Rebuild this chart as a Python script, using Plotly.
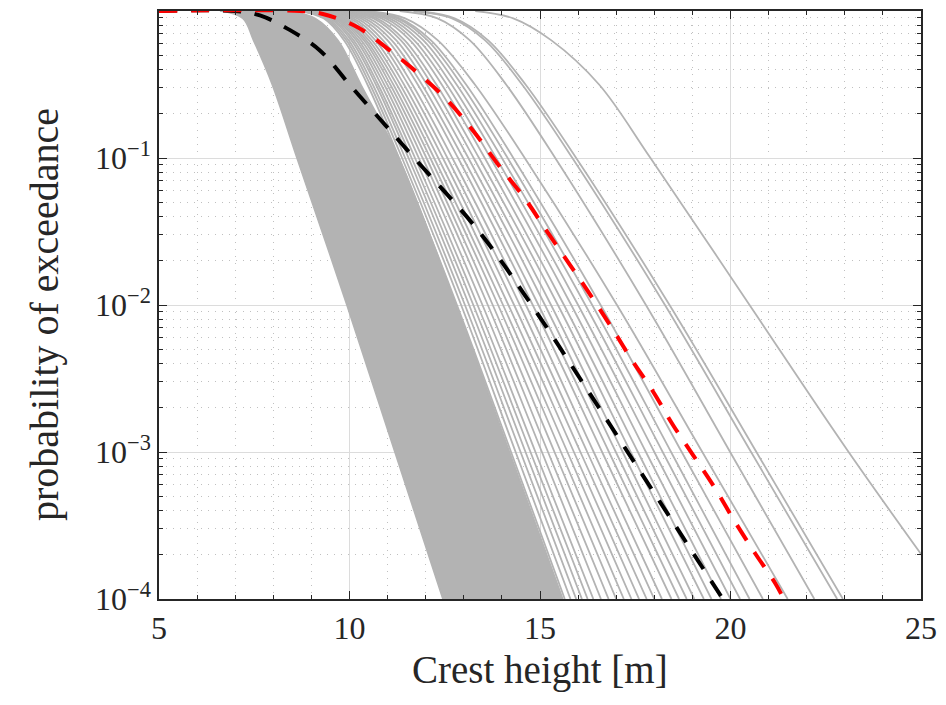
import plotly.graph_objects as go

# log10 of the probability of exceedance at which each gray curve was read
LOG_P = [0, -0.05, -0.2, -0.5, -1, -2, -3, -4]

# dense band of gray curves: left and right boundary (crest height, m)
core_left = [6.6, 7.2, 7.48, 7.97, 8.62, 9.93, 11.19, 12.45]
core_right = [8.4, 9.1, 9.7, 10.3, 11.3, 12.8, 14.2, 15.6]

# individual gray curves outside the dense band (crest height at LOG_P levels)
gray_curves = [
    [8.69, 9.32, 9.86, 10.47, 11.30, 12.82, 14.24, 15.65],
    [8.73, 9.37, 9.92, 10.54, 11.38, 12.93, 14.36, 15.80],
    [8.77, 9.42, 9.98, 10.61, 11.46, 13.03, 14.49, 15.95],
    [8.82, 9.48, 10.05, 10.69, 11.55, 13.14, 14.62, 16.10],
    [8.86, 9.53, 10.11, 10.75, 11.63, 13.25, 14.75, 16.25],
    [8.91, 9.59, 10.18, 10.83, 11.72, 13.36, 14.88, 16.40],
    [8.95, 9.65, 10.24, 10.91, 11.82, 13.49, 15.05, 16.60],
    [8.99, 9.70, 10.31, 10.99, 11.92, 13.63, 15.21, 16.80],
    [9.03, 9.75, 10.38, 11.07, 12.02, 13.76, 15.38, 17.00],
    [9.07, 9.81, 10.44, 11.15, 12.12, 13.90, 15.55, 17.20],
    [9.11, 9.86, 10.51, 11.24, 12.22, 14.03, 15.72, 17.40],
    [9.17, 9.93, 10.59, 11.33, 12.33, 14.17, 15.89, 17.60],
    [9.24, 10.02, 10.68, 11.43, 12.45, 14.32, 16.06, 17.80],
    [9.31, 10.10, 10.78, 11.54, 12.57, 14.47, 16.24, 18.00],
    [9.40, 10.20, 10.88, 11.65, 12.70, 14.63, 16.41, 18.20],
    [9.49, 10.30, 11.00, 11.79, 12.85, 14.81, 16.63, 18.45],
    [9.58, 10.40, 11.11, 11.90, 12.98, 14.96, 16.81, 18.65],
    [9.68, 10.51, 11.23, 12.03, 13.12, 15.13, 16.99, 18.85],
    [9.79, 10.63, 11.35, 12.16, 13.26, 15.29, 17.17, 19.05],
    [9.86, 10.72, 11.45, 12.28, 13.40, 15.47, 17.38, 19.30],
    [9.98, 10.84, 11.59, 12.42, 13.55, 15.63, 17.57, 19.50],
    [10.07, 10.95, 11.70, 12.55, 13.70, 15.82, 17.78, 19.75],
    [10.16, 11.05, 11.82, 12.68, 13.85, 16.00, 18.00, 20.00],
    [10.25, 11.16, 11.94, 12.81, 14.00, 16.19, 18.22, 20.25],
    [10.34, 11.26, 12.05, 12.94, 14.15, 16.37, 18.44, 20.50],
    [10.37, 11.32, 12.14, 13.06, 14.30, 16.59, 18.72, 20.85],
    [10.46, 11.46, 12.32, 13.29, 14.60, 17.02, 19.26, 21.50],
    [11.32, 12.31, 13.16, 14.11, 15.40, 17.78, 19.99, 22.20],
    [11.68, 12.69, 13.56, 14.53, 15.85, 18.28, 20.54, 22.80],
    [11.75, 12.76, 13.64, 14.62, 15.95, 18.40, 20.68, 22.95],
    [13.30, 14.30, 15.30, 16.55, 17.90, 20.50, 23.10, 25.85],
]

# black dashed curve
black_x = [5, 7.0, 7.65, 8.44, 9.23, 10.0, 10.85, 11.7, 13.4, 14.78, 16.05, 17.3, 18.55, 19.8]
black_logp = [0, 0, -0.03, -0.13, -0.27, -0.5, -0.75, -1, -1.5, -2, -2.5, -3, -3.5, -4]

# red dashed curve
red_x = [5, 8.7, 9.3, 10.2, 10.98, 11.85, 12.56, 13.29, 13.95, 14.6, 15.21, 15.79, 16.36,
         16.92, 17.41, 17.97, 18.49, 19.07, 19.59, 20.12, 20.64, 21.17, 21.4]
red_logp = [0, 0, -0.02, -0.109, -0.252, -0.435, -0.605, -0.83, -1.061, -1.275, -1.51, -1.728,
            -1.946, -2.17, -2.374, -2.59, -2.816, -3.041, -3.245, -3.476, -3.687, -3.891, -4.0]

x_ticks = [5, 10, 15, 20, 25]
y_ticks = [1e-4, 1e-3, 1e-2, 1e-1]
y_ticktext = ["10<sup>−4</sup>", "10<sup>−3</sup>", "10<sup>−2</sup>", "10<sup>−1</sup>"]

GRAY = "#b3b3b3"
FONT = "Liberation Serif"
TXT = "#262626"


def prob(levels):
    return [10 ** v for v in levels]


fig = go.Figure()

fig.add_trace(go.Scatter(x=core_left, y=prob(LOG_P), mode="lines",
                         line=dict(color=GRAY, width=1.5, shape="spline"),
                         hoverinfo="skip", showlegend=False))
fig.add_trace(go.Scatter(x=core_right, y=prob(LOG_P), mode="lines",
                         line=dict(color=GRAY, width=1.5, shape="spline"),
                         fill="tonextx", fillcolor=GRAY,
                         hoverinfo="skip", showlegend=False))

for cx in gray_curves:
    fig.add_trace(go.Scatter(x=cx, y=prob(LOG_P), mode="lines",
                             line=dict(color=GRAY, width=1.8, shape="spline"),
                             hoverinfo="skip", showlegend=False))

fig.add_trace(go.Scatter(x=black_x, y=prob(black_logp), mode="lines",
                         line=dict(color="black", width=4, dash="18px,14px", shape="spline"),
                         showlegend=False))
fig.add_trace(go.Scatter(x=red_x, y=prob(red_logp), mode="lines",
                         line=dict(color="#ff0000", width=4, dash="18px,14px", shape="spline"),
                         showlegend=False))

minor_y = [m * 10 ** e for e in range(-4, 0) for m in range(2, 10)]

axis_common = dict(
    showline=True, linecolor=TXT, linewidth=1.5, mirror="ticks",
    ticks="inside", ticklen=8, tickwidth=1.2, tickcolor=TXT,
    showgrid=True, gridcolor="#dcdcdc", gridwidth=1,
    zeroline=False,
    tickfont=dict(family=FONT, size=32, color=TXT),
)

fig.update_xaxes(
    range=[5, 25], tickvals=x_ticks,
    minor=dict(dtick=1, tick0=5, ticks="inside", ticklen=4, tickcolor=TXT,
               showgrid=True, gridcolor="#c0c0c0", griddash="1px,6px", gridwidth=1),
    **axis_common,
)
fig.update_yaxes(
    type="log", range=[-4, 0], tickvals=y_ticks, ticktext=y_ticktext,
    minor=dict(tickmode="array", tickvals=minor_y, ticks="inside", ticklen=4, tickcolor=TXT,
               showgrid=True, gridcolor="#c0c0c0", griddash="1px,6px", gridwidth=1),
    **axis_common,
)

fig.add_annotation(text="Crest height [m]", xref="paper", yref="paper",
                   x=0.5, y=-0.121, xanchor="center", yanchor="middle", showarrow=False,
                   font=dict(family=FONT, size=39, color=TXT))
fig.add_annotation(text="probability of exceedance", xref="paper", yref="paper",
                   x=-0.1496, y=0.483, xanchor="center", yanchor="middle", showarrow=False,
                   textangle=-90, font=dict(family=FONT, size=40, color=TXT))

fig.update_layout(
    width=930, height=689,
    margin=dict(l=151, r=17, t=3, b=98, autoexpand=False),
    plot_bgcolor="white", paper_bgcolor="white",
    showlegend=False,
)

fig.write_html("out.html")
